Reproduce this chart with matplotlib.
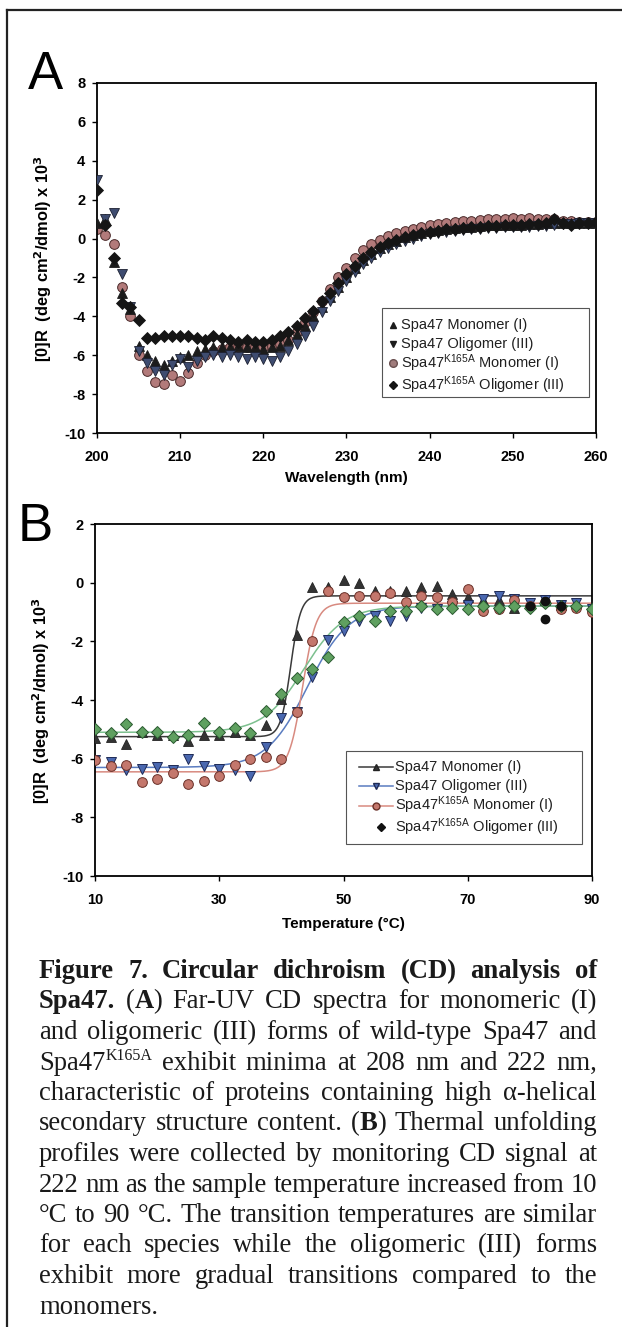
import numpy as np
import matplotlib
matplotlib.use("Agg")
import matplotlib.pyplot as plt
from matplotlib.lines import Line2D
from matplotlib.patches import Rectangle

# ---------------- data: panel A (far-UV CD spectra) ----------------
wavelength = np.arange(200, 261, 1)

spa47_mono_A = [0.8, 1.0, -1.2, -2.8, -3.6, -5.5, -6.0, -6.3, -6.5, -6.3,
                -6.1, -6.0, -5.8, -5.7, -5.6, -5.6, -5.6, -5.5, -5.6, -5.6,
                -5.7, -5.6, -5.5, -5.2, -4.9, -4.5, -4.0, -3.5, -3.0, -2.5,
                -2.0, -1.5, -1.1, -0.8, -0.5, -0.3, -0.1, 0.1, 0.2, 0.3,
                0.4, 0.45, 0.5, 0.55, 0.6, 0.6, 0.65, 0.7, 0.7, 0.7,
                0.7, 0.7, 0.75, 0.75, 0.8, 0.8, 0.8, 0.8, 0.8, 0.8, 0.8]
spa47_olig_A = [3.0, 1.0, 1.3, -1.8, -3.5, -5.8, -6.4, -6.8, -7.0, -6.5,
                -6.2, -6.6, -6.3, -6.1, -6.0, -6.1, -6.0, -6.1, -6.2, -6.1,
                -6.2, -6.3, -6.1, -5.8, -5.4, -5.0, -4.5, -3.8, -3.2, -2.7,
                -2.2, -1.7, -1.3, -1.0, -0.7, -0.5, -0.3, -0.1, 0.0, 0.15,
                0.25, 0.3, 0.35, 0.4, 0.45, 0.5, 0.5, 0.55, 0.55, 0.6,
                0.6, 0.6, 0.6, 0.65, 0.65, 0.7, 0.75, 0.75, 0.8, 0.8, 0.8]
k165a_mono_A = [0.5, 0.2, -0.3, -2.5, -4.0, -6.0, -6.8, -7.4, -7.5, -7.0,
                -7.3, -6.9, -6.4, -6.0, -5.8, -5.7, -5.6, -5.6, -5.6, -5.6,
                -5.6, -5.5, -5.4, -5.2, -4.8, -4.3, -3.8, -3.2, -2.6, -2.0,
                -1.5, -1.0, -0.6, -0.3, -0.05, 0.15, 0.3, 0.4, 0.5, 0.6,
                0.7, 0.75, 0.8, 0.85, 0.9, 0.9, 0.95, 1.0, 1.0, 1.0,
                1.05, 1.0, 1.05, 1.0, 1.0, 1.0, 0.9, 0.9, 0.85, 0.85, 0.85]
k165a_olig_A = [2.5, 0.7, -1.0, -3.3, -3.5, -4.2, -5.1, -5.1, -5.0, -5.0,
                -5.0, -5.0, -5.1, -5.2, -5.0, -5.1, -5.2, -5.3, -5.2, -5.3,
                -5.3, -5.2, -5.0, -4.8, -4.5, -4.1, -3.7, -3.2, -2.8, -2.3,
                -1.8, -1.4, -1.0, -0.7, -0.45, -0.25, -0.05, 0.1, 0.2, 0.3,
                0.35, 0.4, 0.5, 0.5, 0.55, 0.6, 0.6, 0.65, 0.65, 0.7,
                0.7, 0.7, 0.75, 0.75, 0.8, 1.0, 0.8, 0.7, 0.8, 0.8, 0.85]

# ---------------- data: panel B (thermal unfolding at 222 nm) ----------------
temperature = [10, 12.5, 15, 17.5, 20, 22.5, 25, 27.5, 30, 32.5, 35, 37.5, 40,
               42.5, 45, 47.5, 50, 52.5, 55, 57.5, 60, 62.5, 65, 67.5, 70,
               72.5, 75, 77.5, 80, 82.5, 85, 87.5, 90]
spa47_mono_B = [-5.3, -5.25, -5.5, -5.1, -5.2, -5.2, -5.4, -5.2, -5.2, -5.1, -5.2,
                -4.85, -3.95, -1.8, -0.15, -0.15, 0.1, 0.0, -0.3, -0.3, -0.3,
                -0.15, -0.1, -0.4, -0.5, -0.6, -0.6, -0.85, -0.7, -0.6, -0.75,
                -0.7, -0.8]
spa47_olig_B = [-6.05, -6.1, -6.4, -6.35, -6.3, -6.4, -6.0, -6.25, -6.35, -6.4,
                -6.6, -5.6, -4.6, -4.4, -3.2, -1.95, -1.65, -1.3, -1.15, -1.3,
                -1.15, -0.85, -0.9, -0.8, -0.75, -0.55, -0.45, -0.55, -0.7,
                -0.6, -0.75, -0.7, -0.9]
k165a_mono_B = [-6.05, -6.25, -6.2, -6.8, -6.7, -6.5, -6.85, -6.75, -6.6, -6.2,
                -6.0, -5.95, -6.0, -4.4, -2.0, -0.3, -0.5, -0.45, -0.45, -0.35,
                -0.65, -0.45, -0.5, -0.65, -0.2, -0.95, -0.9, -0.6, -0.8, -0.65,
                -0.9, -0.85, -1.0]
k165a_olig_B = [-5.0, -5.14, -4.83, -5.1, -5.09, -5.27, -5.18, -4.78, -5.09, -4.94,
                -5.12, -4.38, -3.8, -3.25, -2.95, -2.55, -1.35, -1.12, -1.32,
                -0.97, -0.97, -0.8, -0.9, -0.85, -0.9, -0.8, -0.86, -0.8, -0.85,
                -0.7, -0.8, -0.8, -0.9]
# stray dark points near the plateau
extra_T = [80, 82.5, 82.5, 85]
extra_B = [-0.8, -0.63, -1.25, -0.8]

# Boltzmann fit parameters (bottom, top, Tm, slope)
fit_spa47_mono = (-5.25, -0.45, 41.5, 0.8)
fit_spa47_olig = (-6.3, -0.8, 44.2, 3.3)
fit_k165a_mono = (-6.45, -0.7, 43.4, 1.1)
fit_k165a_olig = (-5.1, -0.8, 43.6, 3.25)

labels = ["Spa47 Monomer (I)", "Spa47 Oligomer (III)",
          r"Spa47$^{\mathregular{K165A}}$ Monomer (I)",
          r"Spa47$^{\mathregular{K165A}}$ Oligomer (III)"]

plt.rcParams['font.family'] = ['Liberation Sans', 'DejaVu Sans']
plt.rcParams['mathtext.default'] = 'regular'
plt.rcParams['axes.unicode_minus'] = False

W, H = 622, 1327
fig = plt.figure(figsize=(W / 100, H / 100), dpi=100)

# page frame (left and top)
fig.add_artist(Line2D([7 / W, 7 / W], [0, 1 - 10 / H], transform=fig.transFigure,
                      color='#222222', lw=1.6))
fig.add_artist(Line2D([7 / W, 1], [1 - 10 / H, 1 - 10 / H], transform=fig.transFigure,
                      color='#222222', lw=1.6))

ylab = r'[0]R  (deg cm$^{\mathbf{2}}$/dmol) x 10$^{\mathbf{3}}$'


def style_axes(ax):
    for s in ax.spines.values():
        s.set_linewidth(1.3)
        s.set_color('black')
    ax.tick_params(direction='out', length=3.5, width=1.0, labelsize=10.5, pad=5)
    ax.tick_params(axis='x', pad=9)
    for lab in ax.get_xticklabels() + ax.get_yticklabels():
        lab.set_fontweight('bold')


def draw_legend(ax, box, rows_y, text_x, entries, fs):
    x0, y0, x1, y1 = box
    ax.add_patch(Rectangle((x0, y0), x1 - x0, y1 - y0, transform=ax.transAxes,
                           fc='white', ec='#555555', lw=0.8, zorder=10, clip_on=False))
    for y, lab, (line_x, mk_x, kw) in zip(rows_y, labels, entries):
        if line_x is not None:
            ax.plot(line_x, [y, y], transform=ax.transAxes, color=kw['lc'], lw=1.1,
                    zorder=11, clip_on=False)
        ax.plot([mk_x], [y], transform=ax.transAxes, ls='none', marker=kw['m'],
                ms=kw['ms'], mfc=kw['fc'], mec=kw['ec'], zorder=12, clip_on=False)
        ax.text(text_x, y, lab, transform=ax.transAxes, fontsize=fs, va='center',
                ha='left', color='#202020', zorder=12)


# ---------------- Panel A ----------------
axA = fig.add_axes([97 / W, 1 - 433 / H, (596 - 97) / W, (433 - 83) / H])
ms = 7
axA.plot(wavelength, k165a_mono_A, ls='none', marker='o', ms=ms,
         mfc='#b27a7a', mec='#4a2a2a', mew=0.7, zorder=2)
axA.plot(wavelength, spa47_mono_A, ls='none', marker='^', ms=ms + 0.5,
         mfc='#1c1c1c', mec='#1c1c1c', mew=0.6, zorder=3)
axA.plot(wavelength, spa47_olig_A, ls='none', marker='v', ms=ms + 0.5,
         mfc='#3e4c70', mec='#1c2030', mew=0.6, zorder=4)
axA.plot(wavelength, k165a_olig_A, ls='none', marker='D', ms=ms - 0.6,
         mfc='#151515', mec='#151515', mew=0.6, zorder=5)
axA.set_xlim(200, 260)
axA.set_ylim(-10, 8)
axA.set_xticks([200, 210, 220, 230, 240, 250, 260])
axA.set_yticks([-10, -8, -6, -4, -2, 0, 2, 4, 6, 8])
style_axes(axA)
axA.set_xlabel('Wavelength (nm)', fontsize=11, fontweight='bold', labelpad=5)
axA.set_ylabel(ylab, fontsize=11.8, fontweight='bold', labelpad=7)
entA = [(None, 0.593, dict(m='^', ms=5, fc='#1c1c1c', ec='#1c1c1c')),
        (None, 0.593, dict(m='v', ms=5, fc='#1c1c1c', ec='#1c1c1c')),
        (None, 0.593, dict(m='o', ms=5.5, fc='#a07c7c', ec='#6a5050')),
        (None, 0.593, dict(m='D', ms=4.3, fc='#151515', ec='#151515'))]
draw_legend(axA, (0.571, 0.104, 0.985, 0.356), [0.31, 0.255, 0.199, 0.138],
            0.609, entA, 10.5)

# ---------------- Panel B ----------------
axB = fig.add_axes([95 / W, 1 - 876 / H, (592 - 95) / W, (876 - 524) / H])
tfit = np.linspace(10, 90, 400)


def boltz(t, p):
    b, top, tm, k = p
    return b + (top - b) / (1 + np.exp((tm - t) / k))


c_mono, c_olig, c_kmono, c_kolig = '#3a3a3a', '#5a7cc0', '#d88a80', '#7cc08e'
axB.plot(tfit, boltz(tfit, fit_spa47_mono), color=c_mono, lw=1.1, zorder=2)
axB.plot(tfit, boltz(tfit, fit_spa47_olig), color=c_olig, lw=1.1, zorder=2)
axB.plot(tfit, boltz(tfit, fit_k165a_mono), color=c_kmono, lw=1.1, zorder=2)
axB.plot(tfit, boltz(tfit, fit_k165a_olig), color=c_kolig, lw=1.1, zorder=2)
msB = 7
axB.plot(temperature, spa47_mono_B, ls='none', marker='^', ms=msB,
         mfc='#333333', mec='#222222', mew=0.6, zorder=3)
axB.plot(temperature, spa47_olig_B, ls='none', marker='v', ms=msB,
         mfc='#4a68b0', mec='#1e2a55', mew=0.7, zorder=4)
axB.plot(temperature, k165a_mono_B, ls='none', marker='o', ms=msB,
         mfc='#c4776c', mec='#6a3028', mew=0.7, zorder=5)
axB.plot(temperature, k165a_olig_B, ls='none', marker='D', ms=msB - 1,
         mfc='#5fa060', mec='#2a5a30', mew=0.7, zorder=6)
axB.plot(extra_T, extra_B, ls='none', marker='o', ms=6, mfc='#111111',
         mec='#111111', zorder=7)
axB.set_xlim(10, 90)
axB.set_ylim(-10, 2)
axB.set_xticks([10, 30, 50, 70, 90])
axB.set_yticks([-10, -8, -6, -4, -2, 0, 2])
style_axes(axB)
axB.set_xlabel('Temperature (°C)', fontsize=11, fontweight='bold', labelpad=7)
axB.set_ylabel(ylab, fontsize=11.8, fontweight='bold', labelpad=7)
lx = [0.531, 0.6]
entB = [(lx, 0.565, dict(m='^', ms=5, fc='#333333', ec='#222222', lc=c_mono)),
        (lx, 0.565, dict(m='v', ms=5, fc='#4a68b0', ec='#1e2a55', lc=c_olig)),
        (lx, 0.565, dict(m='o', ms=5, fc='#c4776c', ec='#6a3028', lc=c_kmono)),
        (None, 0.576, dict(m='D', ms=4.3, fc='#111111', ec='#111111'))]
draw_legend(axB, (0.505, 0.09, 0.98, 0.356), [0.31, 0.256, 0.2, 0.14],
            0.604, entB, 10.5)

# panel letters
fig.text(28 / W, 1 - 89 / H, 'A', fontsize=38, va='baseline', ha='left')
fig.text(18 / W, 1 - 541 / H, 'B', fontsize=38, va='baseline', ha='left')

# ---------------- caption (justified Times text) ----------------
caption_lines = [
    [("Figure 7. Circular dichroism (CD) analysis of", 'b')],
    [("Spa47.", 'b'), (" (", 'n'), ("A", 'b'), (") Far-UV CD spectra for monomeric (I)", 'n')],
    [("and oligomeric (III) forms of wild-type Spa47 and", 'n')],
    [("Spa47", 'n'), ("K165A", 's'), (" exhibit minima at 208 nm and 222 nm,", 'n')],
    [("characteristic of proteins containing high α-helical", 'n')],
    [("secondary structure content. (", 'n'), ("B", 'b'), (") Thermal unfolding", 'n')],
    [("profiles were collected by monitoring CD signal at", 'n')],
    [("222 nm as the sample temperature increased from 10", 'n')],
    [("°C to 90 °C. The transition temperatures are similar", 'n')],
    [("for each species while the oligomeric (III) forms", 'n')],
    [("exhibit more gradual transitions compared to the", 'n')],
    [("monomers.", 'n')],
]
cap_fs = 19.2
cap_x0, cap_x1 = 39, 597
cap_base0, cap_step = 978, 30.5
renderer = fig.canvas.get_renderer()
serif = ['Liberation Serif', 'DejaVu Serif']


def make_piece(txt, st):
    kw = dict(family=serif, color='#1a1a1a', va='baseline', ha='left')
    if st == 'b':
        return fig.text(0, 0, txt, fontsize=cap_fs, fontweight='bold', **kw), 0
    if st == 's':
        return fig.text(0, 0, txt, fontsize=cap_fs * 0.6, **kw), 9
    return fig.text(0, 0, txt, fontsize=cap_fs, **kw), 0


tmp = fig.text(0, 0, 'a a', fontsize=cap_fs, family=serif)
tmp2 = fig.text(0, 0, 'aa', fontsize=cap_fs, family=serif)
space_w = tmp.get_window_extent(renderer).width - tmp2.get_window_extent(renderer).width
tmp.remove()
tmp2.remove()

for i, segs in enumerate(caption_lines):
    words = [[]]
    for txt, st in segs:
        parts = txt.split(' ')
        for j, p in enumerate(parts):
            if j > 0:
                words.append([])
            if p:
                words[-1].append((p, st))
    words = [w for w in words if w]
    placed = []
    for w in words:
        items = []
        for txt, st in w:
            t, dy = make_piece(txt, st)
            wpx = t.get_window_extent(renderer).width
            items.append((t, dy, wpx))
        placed.append(items)
    total = sum(sum(it[2] for it in w) for w in placed)
    last = (i == len(caption_lines) - 1)
    gap = space_w if last or len(placed) < 2 else (cap_x1 - cap_x0 - total) / (len(placed) - 1)
    x = cap_x0
    base = cap_base0 + i * cap_step
    for w in placed:
        for t, dy, wpx in w:
            t.set_position((x / W, 1 - (base - dy) / H))
            x += wpx
        x += gap

fig.savefig('out.png', dpi=100)
